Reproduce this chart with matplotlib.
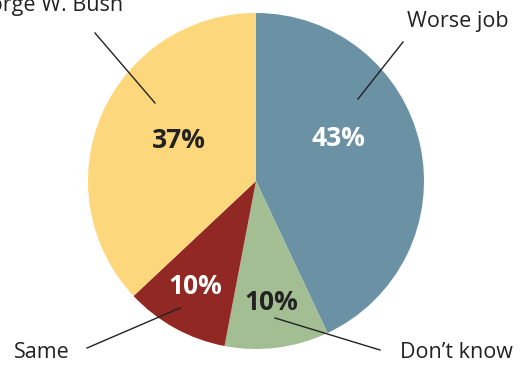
import matplotlib
matplotlib.use("Agg")
from matplotlib import pyplot as plt

# data, clockwise from 12 o'clock
labels = ["Worse job", "Don\u2019t know", "Same", "George W. Bush"]
shares = [43, 10, 10, 37]
colors = ["#6b91a5", "#a4be94", "#922824", "#fdd77b"]
pct_colors = ["white", "#222222", "white", "#222222"]

plt.rcParams["font.family"] = ["Open Sans", "DejaVu Sans"]

W, H = 520, 365
fig = plt.figure(figsize=(5.2, 3.65), dpi=100)
ax = fig.add_axes([0, 0, 1, 1])

cx, cy, r = 256, H - 181, 168
ax.pie(shares, colors=colors, startangle=90, counterclock=False,
       center=(cx, cy), radius=r, frame=True, wedgeprops=dict(linewidth=0))
ax.set_xlim(0, W)
ax.set_ylim(0, H)
ax.set_aspect("equal")
ax.axis("off")

# percentage labels (pixel positions, y from top)
pct_pos = [(338, 139), (271, 302), (195, 286), (179, 141)]
for v, (px, py), c in zip(shares, pct_pos, pct_colors):
    ax.text(px, H - py, f"{v}%", ha="center", va="center", fontsize=19,
            fontweight="bold", color=c)

# category labels with leader lines
lab_pos = [(509, 21, "right"), (513, 352, "right"), (14, 352, "left"), (123, 6, "right")]
lines = [((358, 99), (403, 42)), ((275, 318), (380, 350)),
         ((180, 308), (87, 348)), ((155, 103), (95, 33))]
for name, (px, py, ha), ((x0, y0), (x1, y1)) in zip(labels, lab_pos, lines):
    ax.text(px, H - py, name, ha=ha, va="center", fontsize=15.5, color="#222222")
    ax.plot([x0, x1], [H - y0, H - y1], color="#222222", lw=1)

fig.savefig("out.png", dpi=100)
